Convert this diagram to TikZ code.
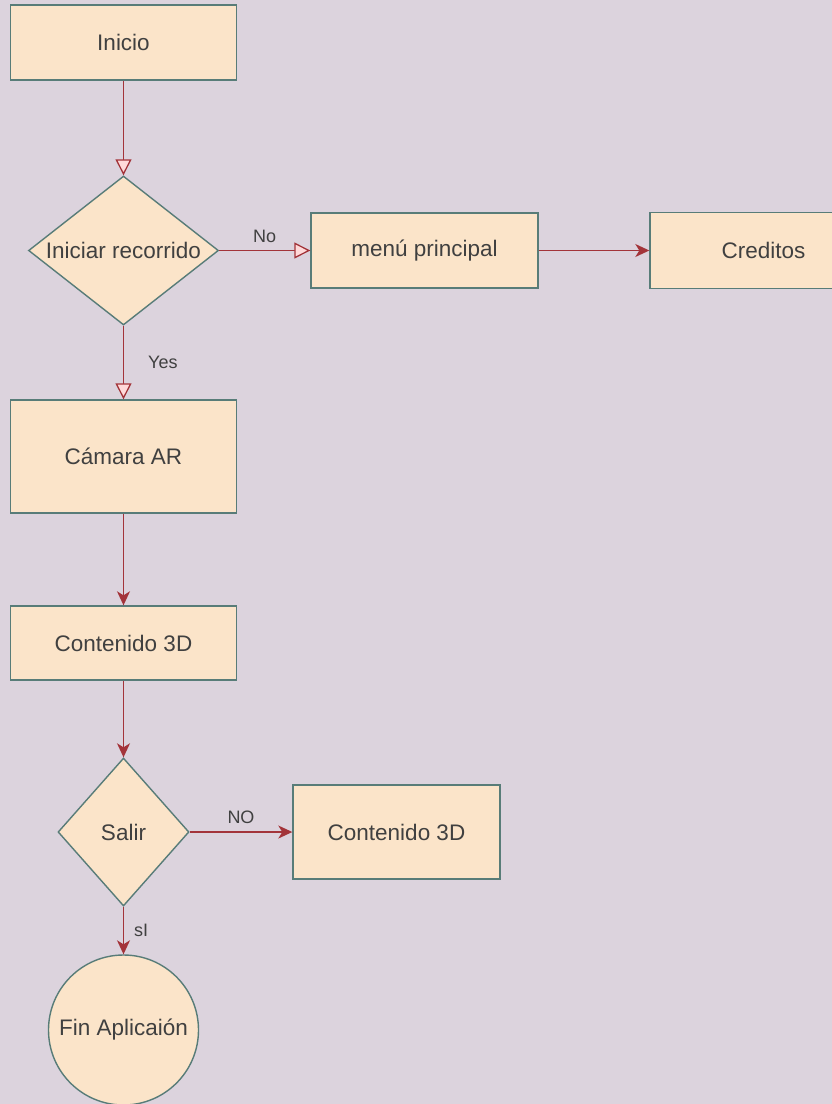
\documentclass[tikz,border=0pt]{standalone}
\usepackage{fontspec}
\setmainfont{Liberation Sans}
\usetikzlibrary{shapes.geometric,arrows.meta}
\definecolor{bg}{HTML}{DCD3DD}
\definecolor{boxfill}{HTML}{FBE4C9}
\definecolor{boxline}{HTML}{587C78}
\definecolor{arrowred}{HTML}{A3343A}
\definecolor{txt}{HTML}{404040}
\tikzset{
  base/.style={draw=boxline, fill=boxfill, line width=1.4pt, text=txt, font=\fontsize{22.5}{26}\selectfont},
  box/.style={base, rectangle, minimum width=226pt, minimum height=75pt, inner sep=0pt},
  decision/.style={base, diamond, inner sep=0pt},
  terminal/.style={base, circle, minimum size=150pt, inner sep=0pt},
  flowopen/.style={draw=arrowred, line width=1.3pt, -{Triangle[open, length=16pt, width=16pt, fill=pink!60]}},
  flowfill/.style={draw=arrowred, line width=1.3pt, -{Stealth[length=14pt, width=13pt, inset=4pt]}},
  lbl/.style={text=txt, font=\fontsize{18}{22}\selectfont, inner sep=0pt}
}
\begin{document}
\begin{tikzpicture}[x=1pt, y=-1pt]
\fill[bg] (0,0) rectangle (832,1104);
\clip (0,0) rectangle (832,1104);
\useasboundingbox (0,0) rectangle (832,1104);

\node[box] (inicio) at (123.5,42.5) {Inicio};
\node[decision, minimum width=190pt, minimum height=149pt, shape aspect=1.28] (iniciar) at (123.5,250.5) {Iniciar recorrido};
\node[box, minimum width=227pt, minimum height=75pt] (menu) at (424.5,250.5) {menú principal};
\node[box, minimum width=227pt, minimum height=76pt] (creditos) at (763.5,250.5) {Creditos};
\node[box, minimum height=113pt] (camara) at (123.5,456.5) {Cámara AR};
\node[box, minimum height=74pt] (contenido) at (123.5,643) {Contenido 3D};
\node[decision, minimum width=131pt, minimum height=148pt, shape aspect=0.885] (salir) at (123.5,832) {Salir};
\node[box, minimum width=207pt, minimum height=94pt] (contenido2) at (396.5,832) {Contenido 3D};
\node[terminal] (fin) at (123.5,1030) {Fin Aplicaión};

\draw[flowopen] (inicio.south) -- (iniciar.north);
\draw[flowopen] (iniciar.east) -- node[lbl, above=7pt] (lno) {No} (menu.west);
\draw[flowfill] (menu.east) -- (creditos.west);
\draw[flowopen] (iniciar.south) -- node[lbl, right=24pt] (lyes) {Yes} (camara.north);
\draw[flowfill] (camara.south) -- (contenido.north);
\draw[flowfill] (contenido.south) -- (salir.north);
\draw[flowfill] (salir.east) -- node[lbl, above=8pt] (lno2) {NO} (contenido2.west);
\draw[flowfill] (salir.south) -- node[lbl, right=10pt] (lsi) {sI} (fin.north);
\end{tikzpicture}
\end{document}
